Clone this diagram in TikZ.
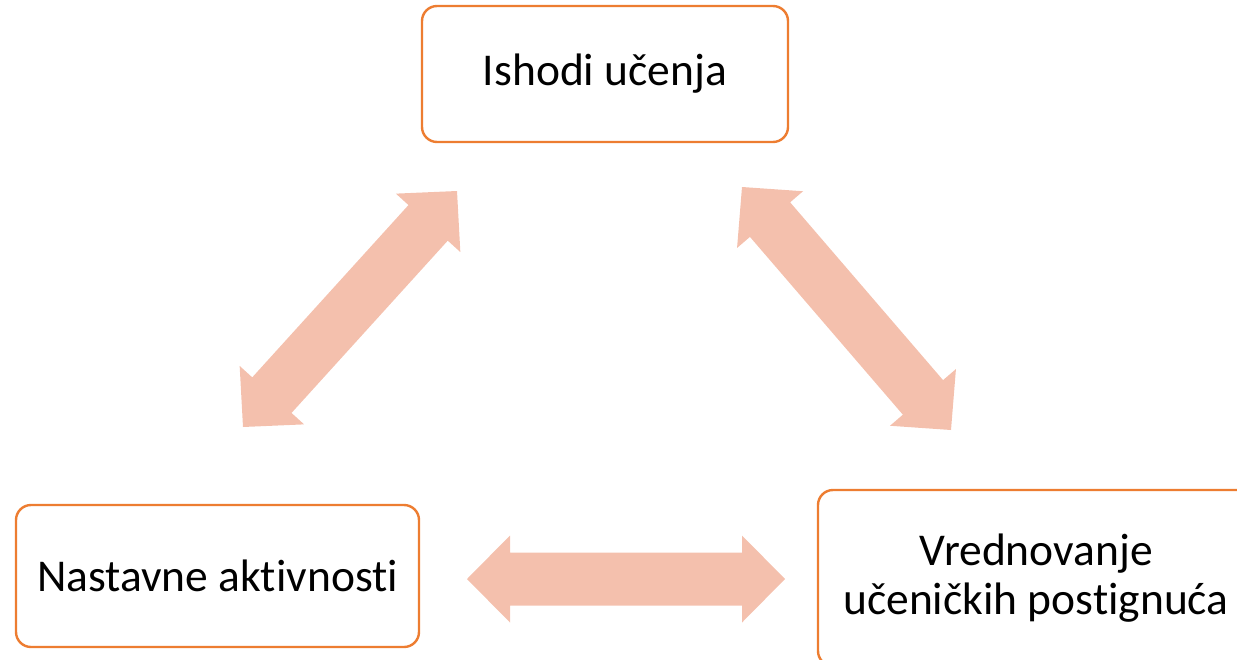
\documentclass[tikz,border=0pt]{standalone}
\usepackage{fontspec}
\setmainfont{Carlito}[Ligatures={NoCommon}]
\usepackage{xcolor}
\usepackage{tikz}
\usetikzlibrary{calc}
\definecolor{boxline}{RGB}{237,125,49}
\definecolor{linkfill}{RGB}{244,192,173}
\newcommand{\HeadLen}{43pt}
\newcommand{\HeadHalf}{43.5pt}
\newcommand{\ShaftHalf}{26.5pt}
\tikzset{
  stage/.style={draw=boxline, line width=2.4pt, rounded corners=15pt, fill=white,
    align=center, inner sep=0pt, font=\fontsize{45.5}{49}\selectfont},
  link/.style={fill=linkfill, draw=none}
}
% block arrow with a head at both ends, from tip #1 to tip #2
\newcommand{\DrawLink}[2]{%
  \fill[link] (#1)
    -- ($(#1)!\HeadLen!(#2)!\HeadHalf!90:(#2)$)
    -- ($(#1)!\HeadLen!(#2)!\ShaftHalf!90:(#2)$)
    -- ($(#2)!\HeadLen!(#1)!\ShaftHalf!-90:(#1)$)
    -- ($(#2)!\HeadLen!(#1)!\HeadHalf!-90:(#1)$)
    -- (#2)
    -- ($(#2)!\HeadLen!(#1)!\HeadHalf!90:(#1)$)
    -- ($(#2)!\HeadLen!(#1)!\ShaftHalf!90:(#1)$)
    -- ($(#1)!\HeadLen!(#2)!\ShaftHalf!-90:(#2)$)
    -- ($(#1)!\HeadLen!(#2)!\HeadHalf!-90:(#2)$)
    -- cycle;%
}

\begin{document}
\begin{tikzpicture}[x=1pt, y=-1pt]
  \useasboundingbox (0,0) rectangle (1237,659);
  \clip (0,0) rectangle (1237,659);
  % the three stages
  \node[stage, minimum width=366pt, minimum height=136pt] (ishodi) at (605,74) {Ishodi učenja};
  \node[stage, minimum width=403pt, minimum height=142pt] (nastava) at (217.5,576) {Nastavne aktivnosti};
  \node[stage, minimum width=436pt, minimum height=176pt] (vrednovanje) at (1036,578) {Vrednovanje\\učeničkih postignuća};
  % arrow tips
  \coordinate (lA) at (243,427);
  \coordinate (lB) at (457,191);
  \coordinate (rA) at (742,187);
  \coordinate (rB) at (951,430);
  \coordinate (hA) at (467,579);
  \coordinate (hB) at (785,579);
  % two-way links
  \DrawLink{lA}{lB}
  \DrawLink{rA}{rB}
  \DrawLink{hA}{hB}
\end{tikzpicture}
\end{document}
